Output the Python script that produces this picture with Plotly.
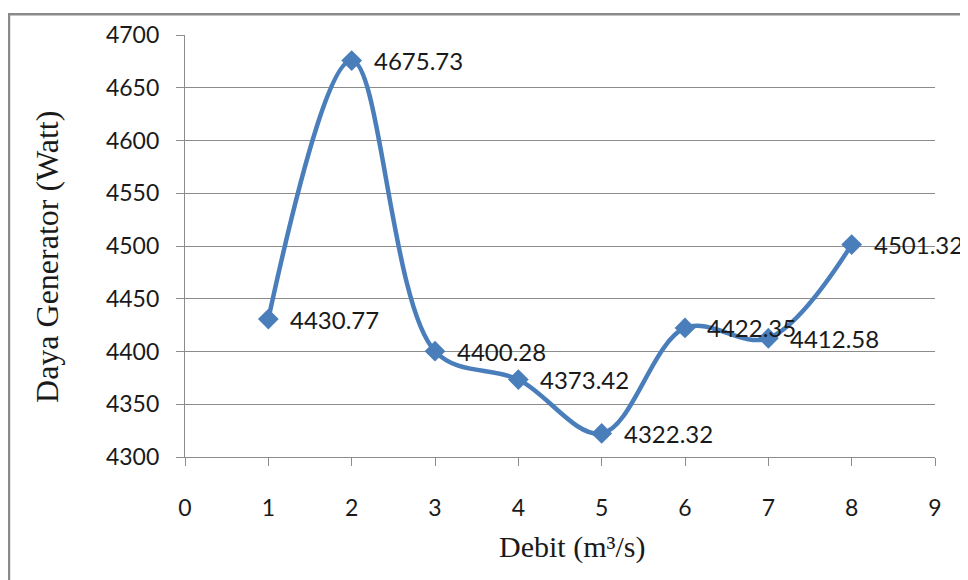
import plotly.graph_objects as go

debit = [1, 2, 3, 4, 5, 6, 7, 8]
daya = [4430.77, 4675.73, 4400.28, 4373.42, 4322.32, 4422.35, 4412.58, 4501.32]
labels = ["4430.77", "4675.73", "4400.28", "4373.42", "4322.32", "4422.35", "4412.58", "4501.32"]
x_ticks = [0, 1, 2, 3, 4, 5, 6, 7, 8, 9]
y_ticks = [4300, 4350, 4400, 4450, 4500, 4550, 4600, 4650, 4700]

blue = "#4A7EBB"
grid = "#8C8C8C"

fig = go.Figure()
fig.add_trace(go.Scatter(
    x=debit, y=daya, mode="lines+markers",
    line=dict(color=blue, width=4.5, shape="spline", smoothing=1),
    marker=dict(symbol="diamond", size=16, color=blue),
    hoverinfo="skip", showlegend=False, cliponaxis=False,
))

for xv, yv, t in zip(debit, daya, labels):
    fig.add_annotation(x=xv, y=yv, text=t, showarrow=False, xanchor="left",
                       yanchor="middle", xshift=20,
                       font=dict(family="Lato", size=24, color="#1a1a1a"))

fig.add_annotation(xref="paper", yref="paper", x=0.516, y=-0.213, text="Debit (m³/s)",
                   showarrow=False, xanchor="center", yanchor="middle",
                   font=dict(family="Liberation Serif", size=30, color="#1a1a1a"))
fig.add_annotation(xref="paper", yref="paper", x=-0.184, y=0.474, text="Daya Generator (Watt)",
                   showarrow=False, xanchor="center", yanchor="middle", textangle=-90,
                   font=dict(family="Liberation Serif", size=32, color="#1a1a1a"))

fig.add_shape(type="rect", xref="paper", yref="paper", x0=-0.2347, x1=2, y0=-2, y1=1.0492,
              line=dict(color="#8a8a8a", width=2.5), fillcolor="rgba(0,0,0,0)", layer="below")

fig.update_xaxes(range=[0, 9], tickvals=x_ticks, showgrid=False, zeroline=False,
                 showline=True, linecolor=grid, linewidth=1.3, ticks="outside", ticklen=8,
                 tickcolor=grid, tickwidth=1.3, ticklabelstandoff=22,
                 tickfont=dict(family="Lato", size=23, color="#1a1a1a"))
fig.update_yaxes(range=[4300, 4700], tickvals=y_ticks, showgrid=True, gridcolor=grid,
                 gridwidth=1.3, zeroline=False, showline=True, linecolor=grid, linewidth=1.3,
                 ticks="outside", ticklen=8, tickcolor=grid, tickwidth=1.3,
                 ticklabelstandoff=12,
                 tickfont=dict(family="Lato", size=23, color="#1a1a1a"))

fig.update_layout(width=960, height=572, margin=dict(l=177, r=33, t=22, b=123),
                  paper_bgcolor="white", plot_bgcolor="white")

fig.write_html("out.html")
